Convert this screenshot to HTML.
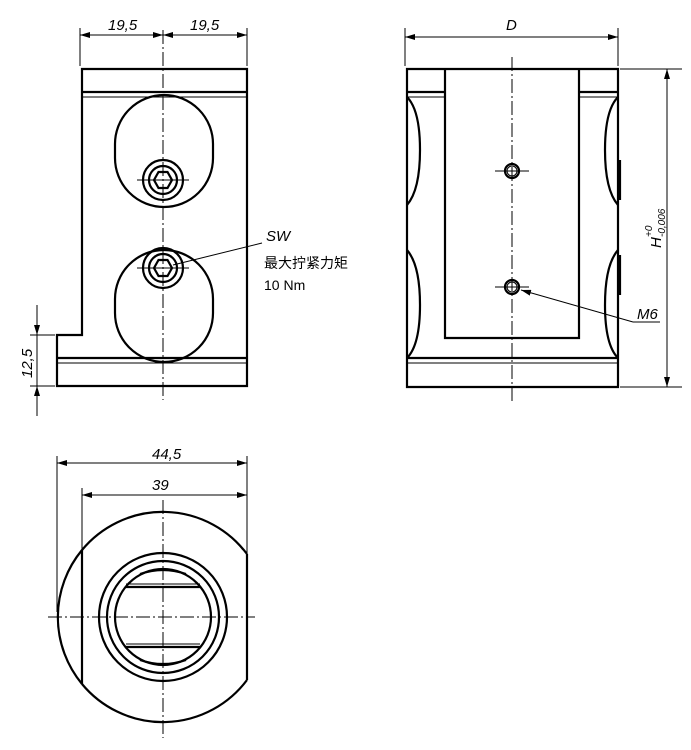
<!DOCTYPE html>
<html><head><meta charset="utf-8"><style>
html,body{margin:0;padding:0;background:#fff}
svg{display:block}
text{font-family:"Liberation Sans","Noto Sans CJK SC",sans-serif;fill:#000}
.t{stroke:#000;stroke-width:2.2;fill:none}
.n{stroke:#000;stroke-width:1;fill:none}
.c{stroke:#000;stroke-width:1;fill:none;stroke-dasharray:14 3 2 3}
</style></head><body>
<svg width="691" height="750" viewBox="0 0 691 750" xmlns="http://www.w3.org/2000/svg">
<defs>
<marker id="a" viewBox="0 0 10 6" refX="10" refY="3" markerWidth="10" markerHeight="6" orient="auto-start-reverse" markerUnits="userSpaceOnUse"><path d="M0,0 L10,3 L0,6 z" fill="#000"/></marker>
</defs>

<!-- LEFT VIEW -->
<path class="t" d="M82,69 H247 V386 H57 V335 H82 Z"/>
<line class="t" x1="82" y1="92" x2="247" y2="92"/>
<line class="n" x1="82" y1="97" x2="247" y2="97"/>
<line class="t" x1="57" y1="358" x2="247" y2="358"/>
<line class="n" x1="57" y1="363" x2="247" y2="363"/>
<path class="t" d="M115,144 A49,49 0 0 1 213,144 V158 A49,49 0 0 1 115,158 Z"/>
<path class="t" d="M115,299 A49,49 0 0 1 213,299 V313 A49,49 0 0 1 115,313 Z"/>
<circle class="t" cx="163" cy="180" r="20"/>
<circle class="t" cx="163" cy="180" r="14"/>
<polygon class="t" points="154,180 158.5,172 167.5,172 172,180 167.5,188 158.5,188"/>
<circle class="t" cx="163" cy="268" r="20"/>
<circle class="t" cx="163" cy="268" r="14"/>
<polygon class="t" points="154,268 158.5,260 167.5,260 172,268 167.5,276 158.5,276"/>
<line class="n" x1="137" y1="180" x2="189" y2="180"/>
<line class="n" x1="137" y1="268" x2="189" y2="268"/>
<line class="c" x1="163" y1="30" x2="163" y2="400"/>
<!-- dims left -->
<line class="n" x1="80" y1="28" x2="80" y2="66"/>
<line class="n" x1="247" y1="28" x2="247" y2="66"/>
<line class="n" x1="80" y1="35" x2="163" y2="35" marker-start="url(#a)" marker-end="url(#a)"/>
<line class="n" x1="163" y1="35" x2="247" y2="35" marker-start="url(#a)" marker-end="url(#a)"/>
<text x="108" y="30" font-size="15" font-style="italic">19,5</text>
<text x="190" y="30" font-size="15" font-style="italic">19,5</text>
<line class="n" x1="30" y1="335" x2="55" y2="335"/>
<line class="n" x1="30" y1="386" x2="55" y2="386"/>
<line class="n" x1="37" y1="305" x2="37" y2="335" marker-end="url(#a)"/>
<line class="n" x1="37" y1="416" x2="37" y2="386" marker-end="url(#a)"/>
<line class="n" x1="37" y1="335" x2="37" y2="386"/>
<text x="0" y="0" font-size="15" font-style="italic" transform="translate(32,378) rotate(-90)">12,5</text>
<!-- SW -->
<line class="n" x1="173" y1="265" x2="262" y2="243"/>
<text x="266" y="241" font-size="15" font-style="italic">SW</text>
<text x="264" y="268" font-size="14">最大拧紧力矩</text>
<text x="264" y="290" font-size="14">10 Nm</text>

<!-- RIGHT VIEW -->
<path class="t" d="M407,69 H618 V387 H407 Z"/>
<path class="t" d="M445,69 V338 H579 V69"/>
<line class="t" x1="407" y1="92" x2="445" y2="92"/>
<line class="n" x1="407" y1="97" x2="445" y2="97"/>
<line class="t" x1="579" y1="92" x2="618" y2="92"/>
<line class="n" x1="579" y1="97" x2="618" y2="97"/>
<line class="t" x1="407" y1="358" x2="618" y2="358"/>
<line class="n" x1="407" y1="363" x2="618" y2="363"/>
<path class="t" d="M407,97 Q420,110 420,150 Q420,190 407,205"/>
<path class="t" d="M407,250 Q420,265 420,305 Q420,345 407,358"/>
<path class="t" d="M618,97 Q605,110 605,150 Q605,190 618,205"/>
<path class="t" d="M618,250 Q605,265 605,305 Q605,345 618,358"/>
<line class="t" x1="620" y1="160" x2="620" y2="200"/>
<line class="t" x1="620" y1="255" x2="620" y2="295"/>
<circle class="t" cx="512" cy="171" r="7"/>
<circle class="n" cx="512" cy="171" r="5"/>
<circle class="t" cx="512" cy="287" r="7"/>
<circle class="n" cx="512" cy="287" r="5"/>
<line class="n" x1="495" y1="171" x2="529" y2="171"/>
<line class="n" x1="495" y1="287" x2="529" y2="287"/>
<line class="c" x1="512" y1="57" x2="512" y2="402"/>
<line class="n" x1="405" y1="28" x2="405" y2="66"/>
<line class="n" x1="618" y1="28" x2="618" y2="66"/>
<line class="n" x1="405" y1="37" x2="618" y2="37" marker-start="url(#a)" marker-end="url(#a)"/>
<text x="506" y="30" font-size="15" font-style="italic">D</text>
<line class="n" x1="620" y1="69" x2="682" y2="69"/>
<line class="n" x1="620" y1="387" x2="682" y2="387"/>
<line class="n" x1="667" y1="69" x2="667" y2="387" marker-start="url(#a)" marker-end="url(#a)"/>
<g transform="translate(661,248) rotate(-90)">
<text x="0" y="0" font-size="15" font-style="italic">H</text>
<text x="11" y="-9" font-size="10" font-style="italic">+0</text>
<text x="11" y="4" font-size="10" font-style="italic">-0,006</text>
</g>
<line class="n" x1="660" y1="322" x2="633" y2="322"/>
<line class="n" x1="633" y1="322" x2="521" y2="290" marker-end="url(#a)"/>
<text x="637" y="319" font-size="15" font-style="italic">M6</text>

<!-- BOTTOM VIEW -->
<path class="t" d="M82,550 A105,105 0 0 1 247,554"/>
<path class="t" d="M247,680 A105,105 0 0 1 82,684"/>
<path class="t" d="M82,550 A105,105 0 0 0 82,684"/>
<path class="n" d="M86,546 A103,103 0 0 1 243,550"/>
<line class="t" x1="82" y1="550" x2="82" y2="684"/>
<line class="t" x1="247" y1="554" x2="247" y2="680"/>
<circle class="t" cx="163" cy="617" r="64"/>
<circle class="t" cx="163" cy="617" r="56"/>
<circle class="t" cx="163" cy="617" r="48"/>
<line class="t" x1="125" y1="587" x2="201" y2="587"/>
<line class="n" x1="126" y1="584" x2="200" y2="584"/>
<line class="t" x1="125" y1="647" x2="201" y2="647"/>
<line class="n" x1="126" y1="644" x2="200" y2="644"/>
<path class="t" d="M140,574 Q163,566 186,574"/>
<path class="t" d="M140,660 Q163,668 186,660"/>
<line class="c" x1="163" y1="500" x2="163" y2="738"/>
<line class="c" x1="48" y1="617" x2="255" y2="617"/>
<line class="n" x1="57" y1="456" x2="57" y2="612"/>
<line class="n" x1="82" y1="488" x2="82" y2="550"/>
<line class="n" x1="247" y1="456" x2="247" y2="554"/>
<line class="n" x1="57" y1="463" x2="247" y2="463" marker-start="url(#a)" marker-end="url(#a)"/>
<line class="n" x1="82" y1="495" x2="247" y2="495" marker-start="url(#a)" marker-end="url(#a)"/>
<text x="152" y="459" font-size="15" font-style="italic">44,5</text>
<text x="152" y="490" font-size="15" font-style="italic">39</text>
</svg>
</body></html>
